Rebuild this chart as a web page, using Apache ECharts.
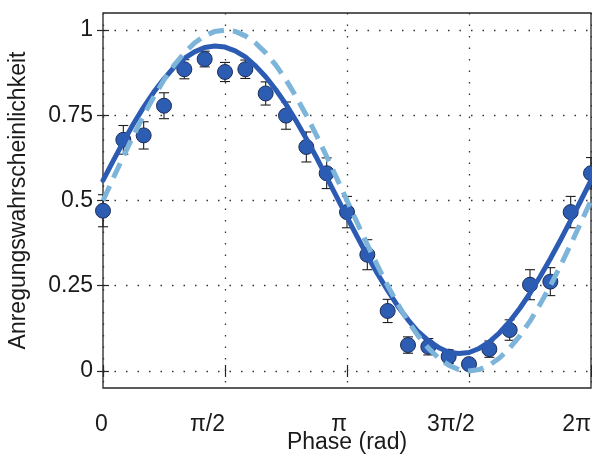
<!DOCTYPE html>
<html>
<head>
<meta charset="utf-8">
<script src="https://cdn.jsdelivr.net/npm/echarts@6/dist/echarts.min.js"></script>
<style>
html, body { margin: 0; padding: 0; background: #fff; }
#chart { width: 592px; height: 455px; }
</style>
</head>
<body>
<div id="chart"></div>
<script>
// x positions in units of pi/24 (0 .. 48 = 2pi)
var measPhase = [0,2,4,6,8,10,12,14,16,18,20,22,24,26,28,30,32,34,36,38,40,42,44,46,48];
var curvePhase = [0,1,2,3,4,5,6,7,8,9,10,11,12,13,14,15,16,17,18,19,20,21,22,23,24,25,26,27,28,29,30,31,32,33,34,35,36,37,38,39,40,41,42,43,44,45,46,47,48];
var xTickLabels = ['0', 'π/2', 'π', '3π/2', '2π'];
var yTicks = [0, 0.25, 0.5, 0.75, 1];

// measured excitation probability and error
var measured = [0.47,0.678,0.691,0.778,0.885,0.915,0.877,0.885,0.814,0.749,0.657,0.58,0.466,0.341,0.176,0.076,0.071,0.042,0.02,0.064,0.12,0.253,0.262,0.466,0.58];
var errors = [0.047,0.042,0.04,0.038,0.028,0.023,0.028,0.027,0.034,0.04,0.044,0.045,0.046,0.044,0.034,0.024,0.024,0.02,0.015,0.024,0.03,0.044,0.041,0.046,0.046];

var fitCurve = [0.559,0.616,0.672,0.725,0.774,0.818,0.857,0.891,0.917,0.936,0.949,0.953,0.950,0.939,0.921,0.895,0.863,0.825,0.782,0.733,0.681,0.626,0.568,0.510,0.451,0.394,0.338,0.285,0.236,0.190,0.150,0.115,0.089,0.069,0.055,0.051,0.054,0.066,0.085,0.112,0.145,0.184,0.228,0.277,0.329,0.384,0.442,0.500,0.559];
var idealCurve = [0.5,0.565,0.629,0.691,0.75,0.804,0.854,0.897,0.933,0.962,0.983,0.996,1,0.996,0.983,0.962,0.933,0.897,0.854,0.804,0.75,0.691,0.629,0.565,0.5,0.435,0.371,0.309,0.25,0.196,0.146,0.103,0.067,0.038,0.017,0.004,0,0.004,0.017,0.038,0.067,0.103,0.146,0.196,0.25,0.309,0.371,0.435,0.5];

var chart = echarts.init(document.getElementById('chart'));

var pts = [], bars = [], fit = [], ideal = [];
for (var i = 0; i < measPhase.length; i++) {
    pts.push([measPhase[i], measured[i]]);
    bars.push([measPhase[i], measured[i] - errors[i], measured[i] + errors[i]]);
}
for (var j = 0; j < curvePhase.length; j++) {
    fit.push([curvePhase[j], fitCurve[j]]);
    ideal.push([curvePhase[j], idealCurve[j]]);
}

var fontFam = '"Liberation Sans", Arial, sans-serif';
var frameColor = '#262626';
var gridDots = { color: '#333', width: 1.3, type: [1.5, 10] };
var tickStyle = { color: frameColor, width: 1.2 };
var labelTxt = { fontSize: 23, color: '#1a1a1a', fontFamily: fontFam };

option = {
    animation: false,
    textStyle: { fontFamily: fontFam },
    grid: {
        left: 103, right: 1, top: 13, bottom: 67,
        outerBoundsMode: 'none',
        show: true, borderColor: frameColor, borderWidth: 1.3,
        backgroundColor: 'transparent'
    },
    xAxis: [{
        type: 'value', min: 0, max: 48, interval: 12, position: 'bottom',
        name: 'Phase (rad)', nameLocation: 'middle', nameGap: 55,
        nameMoveOverlap: false,
        nameTextStyle: { fontSize: 23, color: '#1a1a1a', verticalAlign: 'middle' },
        axisLine: { show: false },
        axisTick: { inside: true, length: 6, lineStyle: tickStyle },
        axisLabel: {
            fontSize: 23, color: '#1a1a1a', margin: 25,
            align: 'right',
            formatter: function (v) {
                var k = v / 12;
                if (k === 0) return '{z|' + xTickLabels[k] + '}';
                if (k === 3) return '{t|' + xTickLabels[k] + '}';
                return xTickLabels[k];
            },
            rich: {
                z: Object.assign({ width: 8, align: 'left' }, labelTxt),
                t: Object.assign({ width: 42, align: 'left' }, labelTxt)
            }
        },
        splitLine: { show: true, lineStyle: gridDots }
    }, {
        type: 'value', min: 0, max: 48, interval: 12, position: 'top',
        axisLine: { show: false },
        axisTick: { inside: true, length: 6, lineStyle: tickStyle },
        axisLabel: { show: false },
        splitLine: { show: false }
    }],
    yAxis: [{
        type: 'value', min: -0.05, max: 1.05, position: 'left',
        name: 'Anregungswahrscheinlichkeit', nameLocation: 'middle', nameGap: 84,
        nameMoveOverlap: false,
        nameTextStyle: { fontSize: 23, color: '#1a1a1a', verticalAlign: 'middle' },
        axisLine: { show: false },
        axisTick: { inside: true, length: 6, customValues: yTicks, lineStyle: tickStyle },
        axisLabel: {
            fontSize: 23, color: '#1a1a1a', margin: 10, customValues: yTicks,
            formatter: function (v) { return String(v); }
        },
        splitLine: { show: true, lineStyle: gridDots }
    }, {
        type: 'value', min: -0.05, max: 1.05, position: 'right',
        axisLine: { show: false },
        axisTick: { inside: true, length: 6, customValues: yTicks, lineStyle: tickStyle },
        axisLabel: { show: false },
        splitLine: { show: false }
    }],
    series: [{
        type: 'custom',
        name: 'err',
        z: 3,
        clip: false,
        renderItem: function (params, api) {
            var x = api.value(0);
            var lo = api.coord([x, api.value(1)]);
            var hi = api.coord([x, api.value(2)]);
            var cw = 5;
            var st = { stroke: '#1e1e1e', lineWidth: 1.1 };
            return {
                type: 'group',
                children: [
                    { type: 'line', shape: { x1: lo[0], y1: lo[1], x2: hi[0], y2: hi[1] }, style: st },
                    { type: 'line', shape: { x1: lo[0] - cw, y1: lo[1], x2: lo[0] + cw, y2: lo[1] }, style: st },
                    { type: 'line', shape: { x1: hi[0] - cw, y1: hi[1], x2: hi[0] + cw, y2: hi[1] }, style: st }
                ]
            };
        },
        encode: { x: 0, y: [1, 2] },
        data: bars
    }, {
        type: 'scatter',
        name: 'Messung',
        z: 4,
        clip: false,
        symbol: 'circle',
        symbolSize: 15,
        itemStyle: { color: '#2c5db3', borderColor: '#1b2c55', borderWidth: 1, opacity: 1 },
        data: pts
    }, {
        type: 'line',
        name: 'Fit',
        z: 5,
        smooth: false,
        showSymbol: false,
        lineStyle: { color: '#2c5bb4', width: 5, cap: 'round', join: 'round' },
        data: fit
    }, {
        type: 'line',
        name: 'Theorie',
        z: 6,
        smooth: false,
        showSymbol: false,
        lineStyle: { color: '#7db4da', width: 5, type: [16, 9] },
        data: ideal
    }]
};
chart.setOption(option);
</script>
</body>
</html>
